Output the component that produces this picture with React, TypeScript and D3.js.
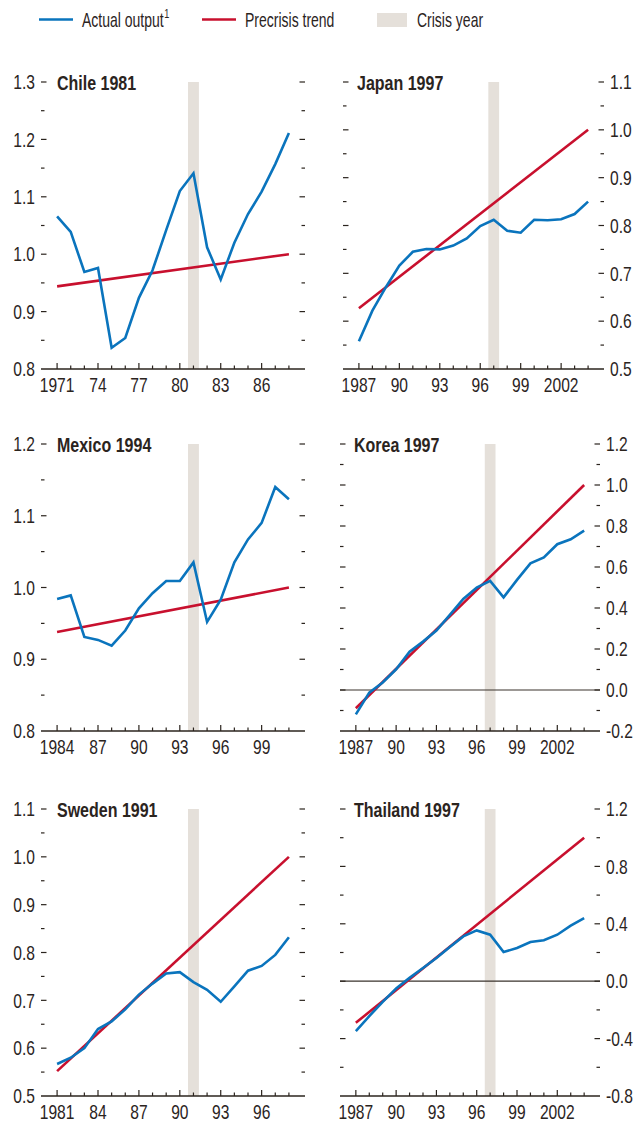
import React from 'react';
import * as d3 from 'd3';

const FONT = "'Liberation Sans', Arial, sans-serif";
const BLUE = '#0a74bd';
const RED = '#c8102e';
const BAR = '#e5e0da';
const INK = '#2b241e';

// actual output, one value per year from the start year
const chileActual = [1.066, 1.039, 0.969, 0.976, 0.837, 0.854, 0.924, 0.972, 1.042, 1.11, 1.141, 1.012, 0.956, 1.02, 1.07, 1.109, 1.157, 1.211];
const japanActual = [0.558, 0.622, 0.671, 0.716, 0.745, 0.751, 0.75, 0.758, 0.773, 0.799, 0.812, 0.789, 0.785, 0.812, 0.811, 0.813, 0.824, 0.85];
const mexicoActual = [0.984, 0.989, 0.931, 0.927, 0.919, 0.94, 0.971, 0.992, 1.009, 1.009, 1.035, 0.952, 0.983, 1.035, 1.067, 1.09, 1.14, 1.123];
const koreaActual = [-0.119, -0.013, 0.037, 0.101, 0.187, 0.236, 0.29, 0.366, 0.444, 0.499, 0.532, 0.452, 0.537, 0.618, 0.647, 0.711, 0.735, 0.777];
const swedenActual = [0.567, 0.58, 0.6, 0.64, 0.656, 0.681, 0.712, 0.735, 0.756, 0.759, 0.738, 0.722, 0.697, 0.729, 0.762, 0.772, 0.795, 0.832];
const thailandActual = [-0.348, -0.244, -0.144, -0.051, 0.023, 0.092, 0.162, 0.238, 0.312, 0.354, 0.324, 0.203, 0.231, 0.273, 0.285, 0.324, 0.387, 0.44];

// precrisis trend, first and last year
const chileTrend = [0.944, 1.0];
const japanTrend = [0.627, 1.0];
const mexicoTrend = [0.938, 1.0];
const koreaTrend = [-0.089, 1.0];
const swedenTrend = [0.552, 1.0];
const thailandTrend = [-0.29, 1.0];

const panels = [
  { title: 'Chile 1981', start: 1971, crisis: 1981, actual: chileActual, trend: chileTrend, y: [0.8, 1.3], major: 0.1, minor: 0.05, row: 0, col: 0, zero: false },
  { title: 'Japan 1997', start: 1987, crisis: 1997, actual: japanActual, trend: japanTrend, y: [0.5, 1.1], major: 0.1, minor: 0.05, row: 0, col: 1, zero: false },
  { title: 'Mexico 1994', start: 1984, crisis: 1994, actual: mexicoActual, trend: mexicoTrend, y: [0.8, 1.2], major: 0.1, minor: 0.05, row: 1, col: 0, zero: false },
  { title: 'Korea 1997', start: 1987, crisis: 1997, actual: koreaActual, trend: koreaTrend, y: [-0.2, 1.2], major: 0.2, minor: 0.1, row: 1, col: 1, zero: true },
  { title: 'Sweden 1991', start: 1981, crisis: 1991, actual: swedenActual, trend: swedenTrend, y: [0.5, 1.1], major: 0.1, minor: 0.05, row: 2, col: 0, zero: false },
  { title: 'Thailand 1997', start: 1987, crisis: 1997, actual: thailandActual, trend: thailandTrend, y: [-0.8, 1.2], major: 0.4, minor: 0.2, row: 2, col: 1, zero: true },
];

const legendItems = ['Actual output', 'Precrisis trend', 'Crisis year'];

const W = 637;
const H = 1125;
const rowTop = [82, 444, 809];
const plotH = 287;
const TICK_FS = 20;
const TICK_SX = 0.78;

const fmtY = (v: number) => {
  const s = v.toFixed(1);
  return s === '-0.0' ? '0.0' : s;
};
const fmtX = (yr: number, first: boolean) => (first || yr >= 2000 ? String(yr) : String(yr).slice(2));

// condensed text: the narrow face is not installed, so squeeze horizontally
function T({ x, y, sx, children, anchor = 'start', size = TICK_FS, bold = false, dy }: any) {
  return (
    <text
      transform={`translate(${x},${y}) scale(${sx},1)`}
      textAnchor={anchor}
      fontSize={size}
      fontWeight={bold ? 'bold' : 'normal'}
      dy={dy}
      fill={INK}
    >
      {children}
    </text>
  );
}

function Panel({ p }: { p: any }) {
  const n = p.actual.length;
  const years = d3.range(p.start, p.start + n);
  const last = years[n - 1];
  const xr = p.col === 0 ? [41, 305] : p.title.startsWith('Japan') ? [343, 604] : [340, 600];
  const x = d3.scaleLinear().domain([p.start - 1.18, last + 1.18]).range(xr);
  const top = rowTop[p.row];
  const y = d3.scaleLinear().domain(p.y).range([top + plotH, top]);
  const line = d3.line<number>().x((_, i) => x(years[i])).y((d) => y(d));

  const yTicks = d3.range(p.y[0], p.y[1] + p.minor / 2, p.minor).map((v) => {
    const r = v / p.major;
    return { v, major: Math.abs(r - Math.round(r)) < 1e-6 };
  });
  const labelRight = p.col === 1;
  const x0 = xr[0];
  const x1 = xr[1];
  const yb = y(p.y[0]);

  return (
    <g>
      <rect x={x(p.crisis - 0.4)} y={y(p.y[1])} width={x(p.crisis + 0.4) - x(p.crisis - 0.4)} height={yb - y(p.y[1])} fill={BAR} />
      {p.zero && <line x1={x0} x2={x1} y1={y(0)} y2={y(0)} stroke="#3a332c" strokeWidth={1.2} />}
      <line x1={x(p.start)} x2={x(last)} y1={y(p.trend[0])} y2={y(p.trend[1])} stroke={RED} strokeWidth={2.6} />
      <path d={line(p.actual) || ''} fill="none" stroke={BLUE} strokeWidth={2.6} />
      <line x1={x0} x2={x1} y1={yb} y2={yb} stroke={INK} strokeWidth={1.5} />
      {years.map((yr) => {
        const maj = (yr - p.start) % 3 === 0;
        return (
          <g key={yr}>
            <line x1={x(yr)} x2={x(yr)} y1={yb} y2={yb - (maj ? 6 : 3.5)} stroke={INK} strokeWidth={1.2} />
            {maj && (
              <T x={x(yr)} y={yb + 23} sx={TICK_SX} anchor="middle">
                {fmtX(yr, yr === p.start)}
              </T>
            )}
          </g>
        );
      })}
      {yTicks.map((t, i) => {
        const label = t.major ? (
          <T x={labelRight ? x1 + 6 : x0 - 6} y={y(t.v)} dy="0.36em" sx={TICK_SX} anchor={labelRight ? 'start' : 'end'}>
            {fmtY(t.v)}
          </T>
        ) : null;
        if (i === 0) return <g key={i}>{label}</g>;
        const len = t.major ? 5.5 : 3.5;
        return (
          <g key={i}>
            <line x1={x0} x2={x0 + len} y1={y(t.v)} y2={y(t.v)} stroke={INK} strokeWidth={1.2} />
            <line x1={x1 - len} x2={x1} y1={y(t.v)} y2={y(t.v)} stroke={INK} strokeWidth={1.2} />
            {label}
          </g>
        );
      })}
      <T x={x0 + (p.col === 0 ? 16 : 14)} y={top + 8} sx={0.8} bold>
        {p.title}
      </T>
    </g>
  );
}

export default function App() {
  return (
    <svg width={W} height={H} style={{ position: 'absolute', left: 0, top: 0, background: '#fff' }} fontFamily={FONT}>
      <g>
        <line x1={39} x2={73} y1={19.5} y2={19.5} stroke={BLUE} strokeWidth={2.6} />
        <T x={82} y={27} sx={0.7}>
          {legendItems[0]}
          <tspan fontSize={13} dy={-9} dx={1}>1</tspan>
        </T>
        <line x1={202} x2={236} y1={19.5} y2={19.5} stroke={RED} strokeWidth={2.6} />
        <T x={245} y={27} sx={0.7}>{legendItems[1]}</T>
        <rect x={377} y={13} width={30} height={14} fill={BAR} />
        <T x={417} y={27} sx={0.7}>{legendItems[2]}</T>
      </g>
      {panels.map((p) => (
        <Panel key={p.title} p={p} />
      ))}
    </svg>
  );
}
